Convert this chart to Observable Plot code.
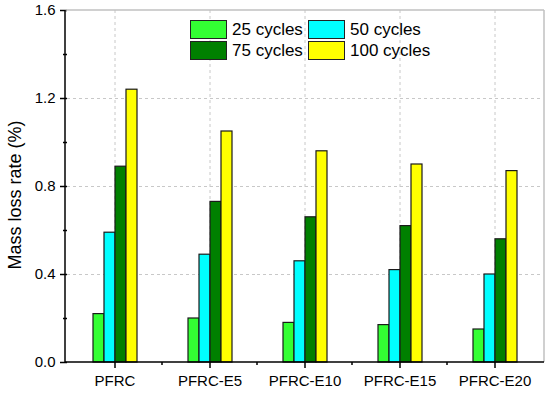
<!DOCTYPE html>
<html><head><meta charset="utf-8">
<script src="https://cdn.jsdelivr.net/npm/d3@7"></script>
<script src="https://cdn.jsdelivr.net/npm/@observablehq/plot@0.6"></script>
<style>
body{margin:0;background:#fff;}
#wrap{position:relative;width:550px;height:393px;font-family:"Liberation Sans",Arial,sans-serif;}
#legend{position:absolute;left:190px;top:19px;display:grid;grid-template-columns:118px auto;grid-auto-rows:21px;}
.item{display:flex;align-items:center;font-size:17px;color:#000;white-space:nowrap;}
.sw{width:37px;height:19px;box-sizing:border-box;border:1.5px solid #222;margin-right:5px;}
</style></head><body><div id="wrap"></div>
<script>
const categories = ["PFRC", "PFRC-E5", "PFRC-E10", "PFRC-E15", "PFRC-E20"];
const seriesNames = ["25 cycles", "50 cycles", "75 cycles", "100 cycles"];
const cycles25 = [0.22, 0.20, 0.18, 0.17, 0.15];
const cycles50 = [0.59, 0.49, 0.46, 0.42, 0.40];
const cycles75 = [0.89, 0.73, 0.66, 0.62, 0.56];
const cycles100 = [1.24, 1.05, 0.96, 0.90, 0.87];
const colors = ["#33ff33", "#00ffff", "#008000", "#ffff00"];
const yTicks = [0, 0.4, 0.8, 1.2, 1.6];
const yMinorTicks = [0.2, 0.6, 1.0, 1.4];
const yLabel = "Mass loss rate (%)";

const seriesValues = [cycles25, cycles50, cycles75, cycles100];
const data = categories.flatMap((cat, i) => seriesNames.map((s, j) => ({cat, series: s, value: seriesValues[j][i]})));

const plot = Plot.plot({
  width: 550, height: 393,
  marginLeft: 65, marginRight: 6, marginTop: 10, marginBottom: 31,
  style: {fontFamily: "Liberation Sans, Arial, sans-serif", fontSize: "15px", background: "white", color: "black", overflow: "visible"},
  fx: {domain: categories, padding: 0, label: null},
  x: {domain: seriesNames, paddingInner: 0, paddingOuter: 2, axis: null},
  y: {domain: [0, 1.6]},
  color: {domain: seriesNames, range: colors},
  marks: [
    Plot.gridY(yTicks.slice(1, -1), {stroke: "#c8c8c8", strokeOpacity: 1, strokeDasharray: "3,3"}),
    Plot.gridFx({stroke: "#c8c8c8", strokeOpacity: 1, strokeDasharray: "3,3"}),
    Plot.barY(data, {fx: "cat", x: "series", y: "value", fill: "series", stroke: "#1a1a1a", strokeWidth: 1.2}),
    Plot.axisY(yTicks, {tickFormat: d3.format(".1f"), tickSize: 7, tickPadding: 5, label: null, fontSize: 15, strokeWidth: 1.5}),
    Plot.axisY(yMinorTicks, {tickFormat: () => "", tickSize: 4, label: null, strokeWidth: 1.5}),
    Plot.axisFx({anchor: "bottom", tickSize: 6, tickPadding: 7, label: null, fontSize: 15, strokeWidth: 1.5})
  ]
});

const svg = d3.select(plot);
const fxs = plot.scale("fx");
const sy = plot.scale("y");
const xLeft = 65, xRight = 550 - 6;
const yTop = sy.apply(1.6), yBottom = sy.apply(0);
const g = svg.append("g");
g.append("line").attr("x1", xLeft).attr("x2", xRight).attr("y1", yTop).attr("y2", yTop).attr("stroke", "#c0c0c0").attr("stroke-width", 1.5);
g.append("line").attr("x1", xRight).attr("x2", xRight).attr("y1", yTop).attr("y2", yBottom).attr("stroke", "#c0c0c0").attr("stroke-width", 1.5);
g.append("line").attr("x1", xLeft).attr("x2", xRight).attr("y1", yBottom).attr("y2", yBottom).attr("stroke", "#000").attr("stroke-width", 1.5);
g.append("line").attr("x1", xLeft).attr("x2", xLeft).attr("y1", yTop).attr("y2", yBottom).attr("stroke", "#000").attr("stroke-width", 1.5);
categories.slice(1).forEach(c => {
  const x = fxs.apply(c);
  g.append("line").attr("x1", x).attr("x2", x).attr("y1", yBottom).attr("y2", yBottom + 3).attr("stroke", "#000").attr("stroke-width", 1.5);
});
svg.append("text").attr("transform", `translate(15,195) rotate(-90)`)
  .attr("text-anchor", "middle").attr("dominant-baseline", "central")
  .attr("font-size", 18).attr("fill", "#000").text(yLabel);

const wrap = document.getElementById("wrap");
wrap.appendChild(plot);
const legend = document.createElement("div");
legend.id = "legend";
seriesNames.forEach((s, j) => {
  const it = document.createElement("div");
  it.className = "item";
  const sw = document.createElement("div");
  sw.className = "sw";
  sw.style.background = colors[j];
  it.appendChild(sw);
  it.appendChild(document.createTextNode(s));
  legend.appendChild(it);
});
wrap.appendChild(legend);
</script>
</body></html>
